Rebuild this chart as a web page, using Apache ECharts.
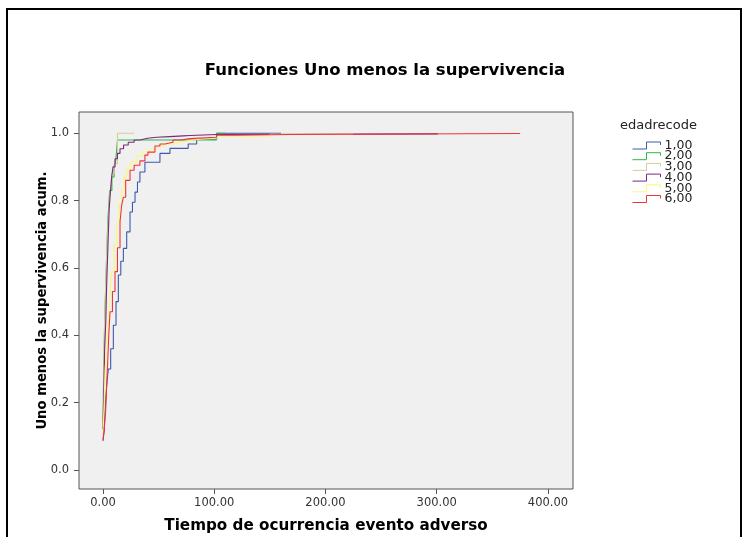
<!DOCTYPE html>
<html>
<head>
<meta charset="utf-8">
<script src="https://cdn.jsdelivr.net/npm/echarts@6/dist/echarts.min.js"></script>
<style>
html,body{margin:0;padding:0;background:#fff;}
#c{width:746px;height:537px;}
</style>
</head>
<body>
<div id="c"></div>
<script>
// ---- data ----
const seriesNames = ['1,00', '2,00', '3,00', '4,00', '5,00', '6,00'];
const xTicks = [0, 100, 200, 300, 400];
const yTicks = [0, 0.2, 0.4, 0.6, 0.8, 1.0];

const s1x = [0, 1.2, 1.8, 3.3, 4.8, 6.9, 9.3, 11.7, 13.8, 16, 18.3, 21.3, 24.3, 26.5, 28.8, 31, 33.2, 37.7, 51.2, 60.2, 76.6, 84.2, 102.2, 160];
const s1y = [0.086, 0.12, 0.175, 0.25, 0.30, 0.36, 0.43, 0.5, 0.579, 0.62, 0.658, 0.707, 0.766, 0.795, 0.825, 0.855, 0.885, 0.914, 0.94, 0.955, 0.968, 0.982, 1.0, 1.0];

const s2x = [0, 0.5, 1, 1.5, 2.5, 3.5, 4.5, 6, 8, 10, 11.5, 13, 102, 110];
const s2y = [0.15, 0.25, 0.35, 0.44, 0.55, 0.66, 0.75, 0.83, 0.87, 0.9, 0.92, 0.98, 1.0, 1.0];

const s3x = [0, 0.5, 1, 1.5, 2.5, 3.5, 5, 6.5, 8, 10, 13, 28];
const s3y = [0.14, 0.3, 0.37, 0.45, 0.56, 0.66, 0.76, 0.83, 0.88, 0.91, 1.0, 1.0];

const s4x = [0, 0.5, 1, 1.5, 2.5, 3.3, 4.8, 5.5, 6.3, 7.8, 9, 10.8, 13, 15.3, 18.5, 22.7, 28, 33.2, 40, 48.2, 60, 72.1, 78.2, 102.2, 301];
const s4y = [0.12, 0.2, 0.28, 0.36, 0.44, 0.55, 0.70, 0.77, 0.81, 0.87, 0.9, 0.924, 0.94, 0.954, 0.965, 0.973, 0.98, 0.985, 0.988, 0.99, 0.992, 0.993, 0.996, 0.998, 1.0];

const s5x = [0, 0.5, 1, 2, 3.5, 4.8, 6.3, 7.8, 10, 12.3, 14.5, 16.8, 19, 21.3, 25, 30.3, 36, 42.2, 48, 54.2, 62, 69.2, 78, 87.2, 102, 150, 224];
const s5y = [0.1, 0.15, 0.2, 0.3, 0.38, 0.44, 0.52, 0.589, 0.67, 0.737, 0.79, 0.835, 0.87, 0.894, 0.915, 0.934, 0.945, 0.954, 0.962, 0.968, 0.973, 0.978, 0.982, 0.985, 0.991, 0.997, 1.0];

const s6x = [0, 1, 2.4, 3.3, 4.2, 5.2, 6.3, 8.5, 10.8, 13, 15.3, 16.8, 18.3, 20.4, 24.3, 28, 33.2, 37.7, 40.4, 46.7, 51.2, 55.7, 62.9, 70, 78.2, 102, 120, 168, 375];
const s6y = [0.09, 0.12, 0.175, 0.25, 0.32, 0.40, 0.47, 0.53, 0.589, 0.66, 0.737, 0.786, 0.81, 0.86, 0.89, 0.905, 0.918, 0.935, 0.944, 0.962, 0.968, 0.973, 0.98, 0.984, 0.988, 0.994, 0.996, 0.999, 1.0];

const colors = ['#3E58AC', '#2EB848', '#D3CE97', '#7C287D', '#FBF873', '#EF3338'];
// ---- build ----
const xs = [s1x, s2x, s3x, s4x, s5x, s6x];
const ys = [s1y, s2y, s3y, s4y, s5y, s6y];
const FONT = '"DejaVu Sans", Verdana, sans-serif';

const series = seriesNames.map((n, i) => ({
  name: n,
  type: 'line',
  step: 'end',
  showSymbol: false,
  symbol: 'none',
  data: xs[i].map((x, k) => [x, ys[i][k]]),
  lineStyle: { color: colors[i], width: 1.1 },
  itemStyle: { color: colors[i] },
  animation: false
}));

const chart = echarts.init(document.getElementById('c'), null, { renderer: 'canvas' });
chart.setOption({
  animation: false,
  backgroundColor: '#ffffff',
  textStyle: { fontFamily: FONT },
  title: [
    { text: 'Funciones Uno menos la supervivencia', left: 380, top: 57, textAlign: 'center',
      textStyle: { fontFamily: FONT, fontSize: 16.5, fontWeight: 'bold', color: '#000' } },
    { text: 'edadrecode', left: 615, top: 114,
      textStyle: { fontFamily: FONT, fontSize: 13, fontWeight: 'normal', color: '#222' } }
  ],
  legend: {
    orient: 'vertical',
    left: 627,
    top: 134,
    itemWidth: 28,
    itemHeight: 7,
    itemGap: -2.3,
    icon: 'path://M0,7 L14,7 L14,0 L28,0 L28,3',
    textStyle: { fontFamily: FONT, fontSize: 12.5, color: '#222', padding: [0, 0, 0, -1] },
    data: seriesNames.map((n, i) => ({
      name: n,
      itemStyle: { color: 'transparent', borderColor: colors[i], borderWidth: 1 }
    })),
    selectedMode: false
  },
  grid: {
    left: 79, top: 112, right: 173, bottom: 48,
    show: true, backgroundColor: '#F0F0F0', borderColor: '#555', borderWidth: 1,
    containLabel: false, outerBoundsMode: 'none'
  },
  xAxis: {
    type: 'value',
    min: -21.57, max: 422.5,
    name: 'Tiempo de ocurrencia evento adverso',
    nameLocation: 'middle', nameGap: 30, nameMoveOverlap: false,
    nameTextStyle: { fontFamily: FONT, fontSize: 15.2, fontWeight: 'bold', color: '#000' },
    axisLine: { show: false, onZero: false },
    splitLine: { show: false },
    axisTick: { show: true, inside: false, length: 5, customValues: xTicks, lineStyle: { color: '#555' } },
    axisLabel: { customValues: xTicks, fontFamily: FONT, fontSize: 11.5, color: '#333', margin: 8,
      formatter: v => v.toFixed(2) }
  },
  yAxis: {
    type: 'value',
    min: -0.0564, max: 1.063,
    name: 'Uno menos la supervivencia acum.',
    nameLocation: 'middle', nameGap: 30, nameMoveOverlap: false,
    nameTextStyle: { fontFamily: FONT, fontSize: 13.2, fontWeight: 'bold', color: '#000' },
    axisLine: { show: false, onZero: false },
    splitLine: { show: false },
    axisTick: { show: true, inside: false, length: 5, customValues: yTicks, lineStyle: { color: '#555' } },
    axisLabel: { customValues: yTicks, fontFamily: FONT, fontSize: 11.5, color: '#333', margin: 10,
      formatter: v => v.toFixed(1) }
  },
  graphic: [
    { type: 'rect', shape: { x: 7, y: 9, width: 734, height: 540 },
      style: { fill: 'none', stroke: '#000', lineWidth: 2 }, silent: true, z: 100 }
  ],
  series: series
});
</script>
</body>
</html>
